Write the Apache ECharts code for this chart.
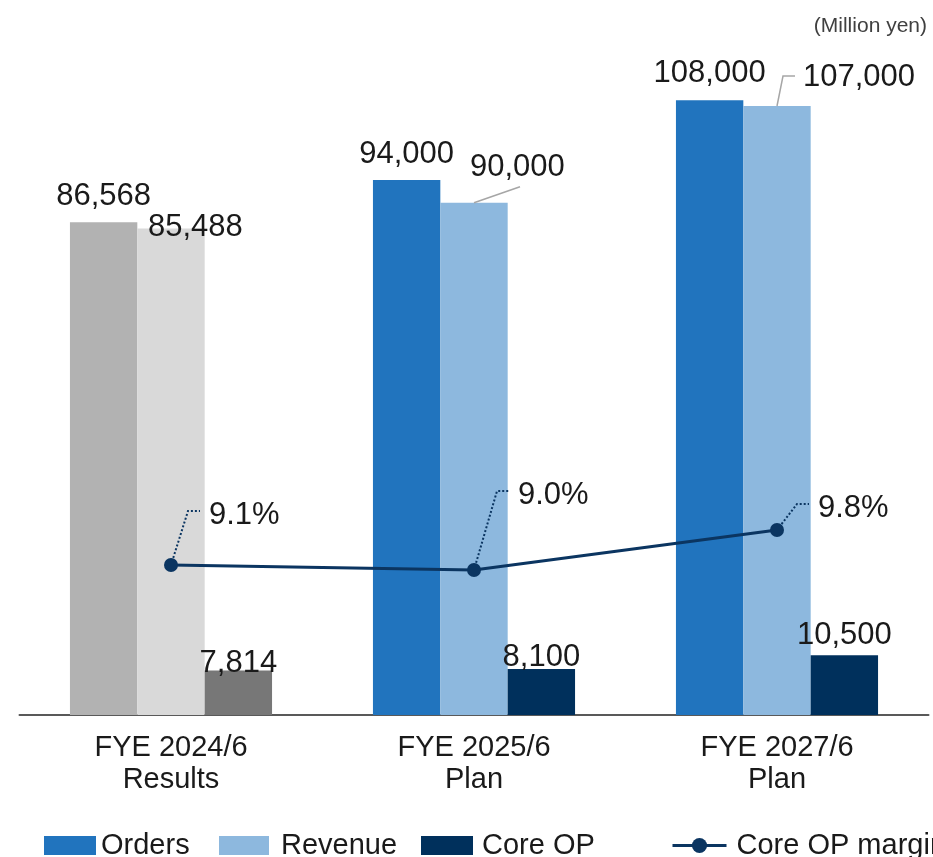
<!DOCTYPE html>
<html>
<head>
<meta charset="utf-8">
<script src="https://cdn.jsdelivr.net/npm/echarts@6/dist/echarts.min.js"></script>
<style>
  html, body { margin: 0; padding: 0; background: #ffffff; }
  #chart { width: 933px; height: 857px; }
</style>
</head>
<body>
<div id="chart"></div>
<script>
// Order / revenue / core operating profit (million yen) and core OP margin (%)
const categories = ['FYE 2024/6\nResults', 'FYE 2025/6\nPlan', 'FYE 2027/6\nPlan'];
const orders  = [86568, 94000, 108000];
const revenue = [85488, 90000, 107000];
const coreOp  = [7814, 8100, 10500];
const margin  = [9.1, 9.0, 9.8];

// Results year is drawn in greys, plan years in blues
const ordersColors  = ['#B2B2B2', '#2174BE', '#2174BE'];
const revenueColors = ['#D9D9D9', '#8DB8DE', '#8DB8DE'];
const coreOpColors  = ['#777777', '#00305C', '#00305C'];
const lineColor = '#0B3561';
const leaderGrey = '#A6A6A6';

const FONT = '"Liberation Sans", Arial, sans-serif';
const TEXT = '#1A1A1A';

const fmtNum = v => Number(v).toLocaleString('en-US');

// label placement: horizontal shift from the mark centre and rise above the mark top
const ordersLabel  = [{ dx: 0, rise: 26 }, { dx: 0, rise: 26 }, { dx: 0, rise: 26.5 }];
const revenueLabel = [{ dx: -23, rise: 0.5 }, { dx: -4, rise: 35.5 }, { dx: 26, rise: 28.5 }];
const coreOpLabel  = [{ dx: 0, rise: 7.5 }, { dx: 0, rise: 11 }, { dx: 0, rise: 19.5 }];
const marginLabel  = [{ dx: 38, rise: 50 }, { dx: 44, rise: 75 }, { dx: 41, rise: 22 }];

function topOf(r) { return Math.min(r.y, r.y + r.height); }
function cxOf(r) { return r.x + r.width / 2; }

function barLayout(cfg, align) {
  return function (p) {
    const c = cfg[p.dataIndex];
    return {
      x: cxOf(p.rect) + c.dx,
      y: topOf(p.rect) - c.rise,
      align: align,
      verticalAlign: 'middle'
    };
  };
}

function marginLayout(p) {
  const c = marginLabel[p.dataIndex];
  const px = cxOf(p.rect), py = p.rect.y + p.rect.height / 2;
  return { x: px + c.dx, y: py - c.rise, align: 'left', verticalAlign: 'middle' };
}

// Leader from a revenue bar top to its label (none for the results year)
function revenueLeader(params, api) {
  const i = api.value(0);
  const pt = api.coord([i, api.value(1)]);
  const bx = pt[0], by = pt[1];
  let points = null;
  if (i === 1) {
    points = [[bx, by], [bx + 46, by - 16]];
  } else if (i === 2) {
    points = [[bx, by], [bx + 6, by - 30], [bx + 18, by - 30]];
  }
  if (!points) return null;
  return {
    type: 'polyline',
    shape: { points: points },
    style: { stroke: leaderGrey, lineWidth: 1.5, fill: null }
  };
}

// Dotted leader from a margin point to its label
function marginLeader(params, api) {
  const i = api.value(0);
  const pt = api.coord([i, api.value(1)]);
  const c = marginLabel[i];
  const left = pt[0] + c.dx;
  const ly = pt[1] - c.rise - 4;
  const bend = [left - 21, ly];
  const vx = bend[0] - pt[0], vy = bend[1] - pt[1];
  const len = Math.sqrt(vx * vx + vy * vy);
  const start = [pt[0] + vx / len * 7.5, pt[1] + vy / len * 7.5];
  return {
    type: 'polyline',
    shape: { points: [start, bend, [left - 9, ly]] },
    style: { stroke: lineColor, lineWidth: 2, lineDash: [2, 2], fill: null }
  };
}

const labelText = { fontFamily: FONT, fontSize: 31, color: TEXT };
const legendText = { fontFamily: FONT, fontSize: 29, color: TEXT };
const CATEGORY_GAP = 0.333;

const chart = echarts.init(document.getElementById('chart'), null, { renderer: 'canvas' });

chart.setOption({
  animation: false,
  backgroundColor: '#ffffff',
  textStyle: { fontFamily: FONT },
  title: {
    text: '(Million yen)',
    right: 1,
    top: 11,
    textStyle: { fontFamily: FONT, fontSize: 21, fontWeight: 'normal', color: '#404040' }
  },
  legend: [
    { data: ['Orders'], icon: 'rect', left: 44, top: 831, padding: 0, itemWidth: 52, itemHeight: 19,
      textStyle: legendText },
    { data: ['Revenue'], icon: 'rect', left: 219, top: 831, padding: 0, itemWidth: 50, itemHeight: 19,
      textStyle: Object.assign({ padding: [0, 0, 0, 7] }, legendText) },
    { data: ['Core OP'], icon: 'rect', left: 421, top: 831, padding: 0, itemWidth: 52, itemHeight: 19,
      textStyle: Object.assign({ padding: [0, 0, 0, 4] }, legendText) },
    { data: ['Core OP margin'], left: 671, top: 831, padding: 0, itemWidth: 54, itemHeight: 19,
      lineStyle: { width: 3 },
      textStyle: Object.assign({ padding: [0, 0, 0, 5] }, legendText) }
  ],
  grid: { left: 19.5, right: 4.5, top: 32, bottom: 142, containLabel: false },
  xAxis: {
    type: 'category',
    data: categories,
    axisLine: { lineStyle: { color: '#595959', width: 2 } },
    axisTick: { show: false },
    axisLabel: { fontFamily: FONT, fontSize: 29, color: TEXT, lineHeight: 32, margin: 17 }
  },
  yAxis: [
    { type: 'value', min: 0, max: 120000, show: false, splitLine: { show: false } },
    { type: 'value', min: 6.1, max: 19.76, show: false, splitLine: { show: false } }
  ],
  series: [
    {
      name: 'Orders',
      type: 'bar',
      barGap: '0%',
      barCategoryGap: (CATEGORY_GAP * 100) + '%',
      itemStyle: { color: ordersColors[1] },
      data: orders.map((v, i) => ({ value: v, itemStyle: { color: ordersColors[i] } })),
      label: Object.assign({ show: true, position: 'top', formatter: p => fmtNum(p.value) }, labelText),
      labelLayout: barLayout(ordersLabel, 'center')
    },
    {
      name: 'Revenue',
      type: 'bar',
      itemStyle: { color: revenueColors[1] },
      data: revenue.map((v, i) => ({ value: v, itemStyle: { color: revenueColors[i] } })),
      label: Object.assign({ show: true, position: 'top', formatter: p => fmtNum(p.value) }, labelText),
      labelLayout: barLayout(revenueLabel, 'left')
    },
    {
      name: 'Core OP',
      type: 'bar',
      itemStyle: { color: coreOpColors[1] },
      data: coreOp.map((v, i) => ({ value: v, itemStyle: { color: coreOpColors[i] } })),
      label: Object.assign({ show: true, position: 'top', formatter: p => fmtNum(p.value) }, labelText),
      labelLayout: barLayout(coreOpLabel, 'center')
    },
    {
      type: 'custom',
      yAxisIndex: 0,
      renderItem: revenueLeader,
      data: revenue.map((v, i) => [i, v]),
      encode: { x: 0, y: 1 },
      silent: true,
      z: 3
    },
    {
      type: 'custom',
      yAxisIndex: 1,
      renderItem: marginLeader,
      data: margin.map((v, i) => [i, v]),
      encode: { x: 0, y: 1 },
      silent: true,
      z: 4
    },
    {
      name: 'Core OP margin',
      type: 'line',
      yAxisIndex: 1,
      data: margin,
      symbol: 'circle',
      symbolSize: 14,
      lineStyle: { color: lineColor, width: 3 },
      itemStyle: { color: lineColor },
      label: Object.assign({ show: true, position: 'top', formatter: p => p.value.toFixed(1) + '%' }, labelText),
      labelLayout: marginLayout,
      z: 5
    }
  ]
});
</script>
</body>
</html>
